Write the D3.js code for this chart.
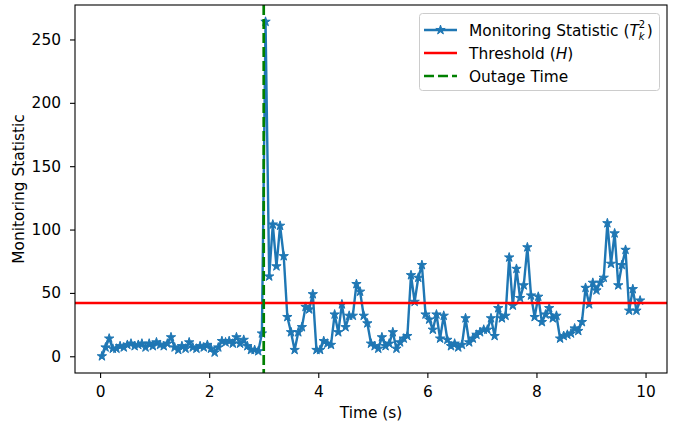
<!DOCTYPE html>
<html><head><meta charset="utf-8">
<script src="https://cdn.jsdelivr.net/npm/d3@7"></script>
<style>
body{margin:0;background:#fff}
svg{display:block}
text{font-family:"DejaVu Sans",sans-serif;fill:#000}
</style>
</head><body>
<svg id="c" width="686" height="424"></svg>
<script>
// ---- data ----
const sampleStart = 1/30;      // s
const samplePeriod = 1/15;     // s
const statValues = [
  0,7,14,6,6,8,7,9,10,8,9,10,7,10,8,11,9,8,10,15,7,5,8,6,11,7,6,8,7,9,6,3,7,12,11,12,10,15,10,13,8,5,5,4,18,
  264,63,104,71,103,79,31,19,5,19,23,39,37,49,5,5,12,10,9,33,19,41,23,32,32,57,51,32,26,10,8,6,15,8,10,19,6,11,14,16,
  64,43,62,72,33,29,21,33,14,32,13,8,10,7,9,30,11,14,17,19,21,21,30,16,38,30,32,78,40,69,46,56,86,48,31,47,27,33,38,30,32,
  14,16,17,18,22,20,27,54,41,58,52,58,62,105,73,97,56,72,84,36,53,36,44
];
const thresholdValue = 42;
const outageTime = 3.0;
const xTickValues = [0,2,4,6,8,10];
const yTickValues = [0,50,100,150,200,250];
const xLabel = "Time (s)";
const yLabel = "Monitoring Statistic";

const times = statValues.map((_, i) => sampleStart + i * samplePeriod);
const data = times.map((t, i) => ({t, v: statValues[i]}));

// ---- layout ----
const W = 686, H = 424;
const m = {left: 75, right: 667, top: 5, bottom: 373};
const FS = 15.4;
const blue = "#1f77b4";

const svg = d3.select("#c");
svg.append("rect").attr("width", W).attr("height", H).attr("fill", "#fff");

const tMin = d3.min(times), tMax = d3.max(times);
const tPad = (tMax - tMin) * 0.05;
const vMin = d3.min(statValues), vMax = d3.max(statValues);
const vPad = (vMax - vMin) * 0.05;

const x = d3.scaleLinear().domain([tMin - tPad, tMax + tPad]).range([m.left, m.right]);
const y = d3.scaleLinear().domain([vMin - vPad, vMax + vPad]).range([m.bottom, m.top]);

const plot = svg.append("g");
plot.append("defs").append("clipPath").attr("id", "clip")
  .append("rect").attr("x", m.left).attr("y", m.top)
  .attr("width", m.right - m.left).attr("height", m.bottom - m.top);

const inner = plot.append("g").attr("clip-path", "url(#clip)");

// series line
inner.append("path").datum(data)
  .attr("fill", "none").attr("stroke", blue).attr("stroke-width", 2.4)
  .attr("stroke-linejoin", "round")
  .attr("d", d3.line().x(d => x(d.t)).y(d => y(d.v)));

const star = d3.symbol().type(d3.symbolStar).size(27);
inner.append("g").selectAll("path").data(data).join("path")
  .attr("transform", d => `translate(${x(d.t)},${y(d.v)})`)
  .attr("d", star)
  .attr("fill", blue).attr("stroke", blue).attr("stroke-width", 1).attr("stroke-linejoin", "miter");

// threshold
inner.append("line")
  .attr("x1", m.left).attr("x2", m.right)
  .attr("y1", y(thresholdValue)).attr("y2", y(thresholdValue))
  .attr("stroke", "#ff0000").attr("stroke-width", 2.5);

// outage
inner.append("line")
  .attr("x1", x(outageTime)).attr("x2", x(outageTime))
  .attr("y1", m.top).attr("y2", m.bottom)
  .attr("stroke", "#008000").attr("stroke-width", 2.7)
  .attr("stroke-dasharray", "10,4");

// axes
const xAxis = svg.append("g").attr("transform", `translate(0,${m.bottom})`)
  .call(d3.axisBottom(x).tickValues(xTickValues).tickFormat(d3.format("d")).tickSize(5).tickPadding(8));
const yAxis = svg.append("g").attr("transform", `translate(${m.left},0)`)
  .call(d3.axisLeft(y).tickValues(yTickValues).tickFormat(d3.format("d")).tickSize(5).tickPadding(9));
[xAxis, yAxis].forEach(a => {
  a.select(".domain").remove();
  a.selectAll(".tick line").attr("stroke", "#000").attr("stroke-width", 1.1);
  a.selectAll(".tick text").attr("font-size", FS).attr("font-family", "DejaVu Sans").attr("fill", "#000");
});

// spines
svg.append("rect").attr("x", m.left).attr("y", m.top)
  .attr("width", m.right - m.left).attr("height", m.bottom - m.top)
  .attr("fill", "none").attr("stroke", "#000").attr("stroke-width", 1.1);

// axis labels
svg.append("text").attr("x", (m.left + m.right) / 2).attr("y", 418)
  .attr("text-anchor", "middle").attr("font-size", FS).text(xLabel);
svg.append("text").attr("transform", `translate(24,${(m.top + m.bottom) / 2}) rotate(-90)`)
  .attr("text-anchor", "middle").attr("font-size", FS).text(yLabel);

// legend
const lg = svg.append("g");
lg.append("rect").attr("x", 419.5).attr("y", 13.5).attr("width", 240).attr("height", 77).attr("rx", 3)
  .attr("fill", "#fff").attr("fill-opacity", 0.8).attr("stroke", "#cccccc").attr("stroke-width", 1);

const hx1 = 424, hx2 = 457, tx = 469;
const rows = [30, 53, 76];

lg.append("line").attr("x1", hx1).attr("x2", hx2).attr("y1", rows[0]).attr("y2", rows[0])
  .attr("stroke", blue).attr("stroke-width", 2.4);
lg.append("path").attr("transform", `translate(${(hx1 + hx2) / 2},${rows[0]})`).attr("d", star)
  .attr("fill", blue).attr("stroke", blue).attr("stroke-width", 1);
lg.append("line").attr("x1", hx1).attr("x2", hx2).attr("y1", rows[1]).attr("y2", rows[1])
  .attr("stroke", "#ff0000").attr("stroke-width", 2.5);
lg.append("line").attr("x1", hx1).attr("x2", hx2).attr("y1", rows[2]).attr("y2", rows[2])
  .attr("stroke", "#008000").attr("stroke-width", 2.7).attr("stroke-dasharray", "10,4");

function richText(g, x0, yc, parts) {
  let cx = x0;
  const base = yc + FS * 0.36;
  parts.forEach(p => {
    if (p.sup !== undefined) {
      const s1 = g.append("text").attr("x", cx).attr("y", base - FS * 0.47)
        .attr("font-size", FS * 0.65).text(p.sup);
      const s2 = g.append("text").attr("x", cx).attr("y", base + FS * 0.3)
        .attr("font-size", FS * 0.65).attr("font-style", "italic").text(p.sub);
      cx += Math.max(s1.node().getComputedTextLength(), s2.node().getComputedTextLength()) + 1.5;
    } else {
      const t = g.append("text").attr("x", cx).attr("y", base).attr("font-size", FS)
        .attr("font-style", p.it ? "italic" : "normal").text(p.t);
      cx += t.node().getComputedTextLength();
    }
  });
}
richText(lg, tx, rows[0], [{t: "Monitoring Statistic ("}, {t: "T", it: true}, {sup: "2", sub: "k"}, {t: ")"}]);
richText(lg, tx, rows[1], [{t: "Threshold ("}, {t: "H", it: true}, {t: ")"}]);
richText(lg, tx, rows[2], [{t: "Outage Time"}]);
</script>
</body></html>
